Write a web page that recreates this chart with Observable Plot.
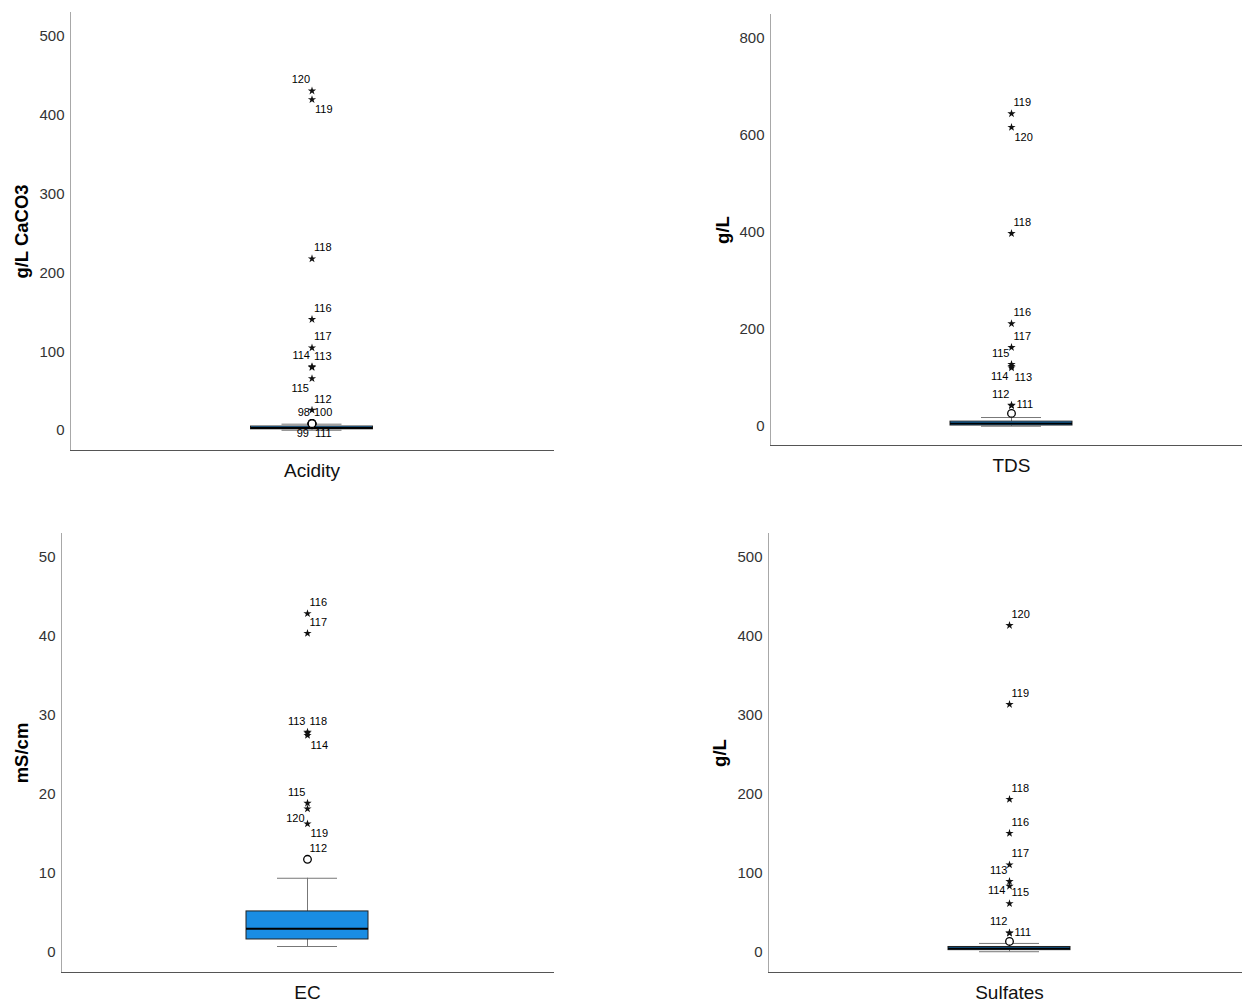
<!DOCTYPE html>
<html><head><meta charset="utf-8">
<script src="https://cdn.jsdelivr.net/npm/d3@7"></script>
<script src="https://cdn.jsdelivr.net/npm/@observablehq/plot@0.6"></script>
<style>
body{margin:0;background:#fff}
#wrap{position:relative;width:1242px;height:1002px;overflow:hidden;background:#fff}
#wrap > svg{position:absolute}
</style></head><body><div id="wrap"></div>
<script>
// ---------- DATA ----------
const variables = ["Acidity", "TDS", "EC", "Sulfates"];
const units = ["g/L CaCO3", "g/L", "mS/cm", "g/L"];
const yTicks = [
  [0, 100, 200, 300, 400, 500],
  [0, 200, 400, 600, 800],
  [0, 10, 20, 30, 40, 50],
  [0, 100, 200, 300, 400, 500]
];
const yDomains = [[-25.4, 530.5], [-39.2, 849.5], [-2.53, 53.04], [-25.3, 530.4]];
const boxQ1 = [1.5, 2, 1.65, 3];
const boxMedian = [3, 6, 3.0, 5];
const boxQ3 = [5, 10, 5.2, 7];
const whiskerLow = [0.3, 0.5, 0.76, 1];
const whiskerHigh = [8, 18.5, 9.4, 11.5];

// kind: "extreme" (star) or "outlier" (circle)
const acidityOutliers = [
  {id: "120", value: 431, kind: "extreme"},
  {id: "119", value: 420, kind: "extreme"},
  {id: "118", value: 218, kind: "extreme"},
  {id: "116", value: 141, kind: "extreme"},
  {id: "117", value: 105, kind: "extreme"},
  {id: "114", value: 81, kind: "extreme"},
  {id: "113", value: 80, kind: "extreme"},
  {id: "115", value: 66, kind: "extreme"},
  {id: "112", value: 26, kind: "extreme"},
  {id: "98", value: 9, kind: "outlier"},
  {id: "100", value: 9, kind: "outlier"},
  {id: "99", value: 8.6, kind: "outlier"},
  {id: "111", value: 8.6, kind: "outlier"}
];
const tdsOutliers = [
  {id: "119", value: 645, kind: "extreme"},
  {id: "120", value: 617, kind: "extreme"},
  {id: "118", value: 398, kind: "extreme"},
  {id: "116", value: 212, kind: "extreme"},
  {id: "117", value: 163, kind: "extreme"},
  {id: "115", value: 128, kind: "extreme"},
  {id: "114", value: 124, kind: "extreme"},
  {id: "113", value: 121, kind: "extreme"},
  {id: "112", value: 44, kind: "extreme"},
  {id: "111", value: 43, kind: "extreme"},
  {id: "", value: 27, kind: "outlier"}
];
const ecOutliers = [
  {id: "116", value: 42.9, kind: "extreme"},
  {id: "117", value: 40.4, kind: "extreme"},
  {id: "113", value: 27.9, kind: "extreme"},
  {id: "118", value: 27.8, kind: "extreme"},
  {id: "114", value: 27.5, kind: "extreme"},
  {id: "115", value: 18.9, kind: "extreme"},
  {id: "120", value: 18.2, kind: "extreme"},
  {id: "119", value: 16.3, kind: "extreme"},
  {id: "112", value: 11.8, kind: "outlier"}
];
const sulfatesOutliers = [
  {id: "120", value: 414, kind: "extreme"},
  {id: "119", value: 314, kind: "extreme"},
  {id: "118", value: 194, kind: "extreme"},
  {id: "116", value: 151, kind: "extreme"},
  {id: "117", value: 111, kind: "extreme"},
  {id: "113", value: 90, kind: "extreme"},
  {id: "114", value: 84, kind: "extreme"},
  {id: "115", value: 62, kind: "extreme"},
  {id: "112", value: 25, kind: "extreme"},
  {id: "111", value: 24.5, kind: "extreme"},
  {id: "", value: 14, kind: "outlier"}
];
const outliers = [acidityOutliers, tdsOutliers, ecOutliers, sulfatesOutliers];

// ---------- LAYOUT (label placement around each marker) ----------
const labelSides = [
  {"120": "nw", "119": "se", "118": "ne", "116": "ne", "117": "ne", "114": "nw", "113": "ne", "115": "sw", "112": "ne", "98": "nw", "100": "ne", "99": "sw", "111": "se"},
  {"119": "ne", "120": "se", "118": "ne", "116": "ne", "117": "ne", "115": "nw", "114": "sw", "113": "se", "112": "nw", "111": "e"},
  {"116": "ne", "117": "ne", "113": "nw", "118": "ne", "114": "se", "115": "nw", "120": "sw", "119": "se", "112": "ne"},
  {"120": "ne", "119": "ne", "118": "ne", "116": "ne", "117": "ne", "113": "nw", "114": "w", "115": "ne", "112": "nw", "111": "e"}
];
const sideStyle = {
  ne: {dx: 2, dy: -11, textAnchor: "start"},
  nw: {dx: -2, dy: -11, textAnchor: "end"},
  se: {dx: 3, dy: 10, textAnchor: "start"},
  sw: {dx: -3, dy: 10, textAnchor: "end"},
  e: {dx: 5, dy: -1, textAnchor: "start"},
  w: {dx: -4, dy: 4, textAnchor: "end"}
};
const panels = [
  {left: 0, top: 0, width: 621, height: 500, mL: 70, mR: 68, mT: 12, mB: 50, titleDx: -48},
  {left: 700, top: 0, width: 552, height: 500, mL: 70, mR: 0, mT: 14, mB: 55, titleDx: -47},
  {left: 0, top: 500, width: 621, height: 502, mL: 61, mR: 68, mT: 33, mB: 30, titleDx: -39},
  {left: 700, top: 500, width: 550, height: 502, mL: 68, mR: 0, mT: 33, mB: 30, titleDx: -48}
];
const boxWidth = 122, capWidth = 60;
const boxFill = "#1a8de3";

const wrap = document.getElementById("wrap");
variables.forEach((v, i) => {
  const p = panels[i];
  const plotW = p.width - p.mL - p.mR;
  const boxInset = (plotW - boxWidth) / 2;
  const capInset = (plotW - capWidth) / 2;
  const stat = [{variable: v, q1: boxQ1[i], median: boxMedian[i], q3: boxQ3[i], lo: whiskerLow[i], hi: whiskerHigh[i]}];
  const pts = outliers[i].map(d => ({...d, variable: v, side: labelSides[i][d.id]}));
  const labelMarks = Object.keys(sideStyle).map(s =>
    Plot.text(pts.filter(d => d.side === s && d.id), {
      x: "variable", y: "value", text: "id", fontSize: 11, fill: "#000", ...sideStyle[s]
    })
  );
  const chart = Plot.plot({
    width: p.width, height: p.height,
    marginLeft: p.mL, marginRight: p.mR, marginTop: p.mT, marginBottom: p.mB,
    style: {fontFamily: "'Liberation Sans', Arial, sans-serif", background: "transparent", overflow: "visible"},
    x: {type: "band", domain: [v], padding: 0},
    y: {domain: yDomains[i]},
    marks: [
      Plot.axisY({ticks: yTicks[i], tickSize: 0, tickPadding: 6, fontSize: 15, fill: "#333", label: null}),
      Plot.axisX({tickSize: 0, tickPadding: 13, fontSize: 19, fill: "#111", label: null}),
      Plot.frame({anchor: "left", stroke: "#a8a8a8"}),
      Plot.frame({anchor: "bottom", stroke: "#555"}),
      Plot.text([units[i]], {text: d => d, frameAnchor: "left", textAnchor: "middle", rotate: -90, dx: p.titleDx, fontSize: 18.5, fontWeight: "bold", fill: "#000"}),
      Plot.ruleX(stat, {x: "variable", y1: "q3", y2: "hi", stroke: "#777"}),
      Plot.ruleX(stat, {x: "variable", y1: "q1", y2: "lo", stroke: "#777"}),
      Plot.tickY(stat, {x: "variable", y: "hi", stroke: "#777", insetLeft: capInset, insetRight: capInset}),
      Plot.tickY(stat, {x: "variable", y: "lo", stroke: "#777", insetLeft: capInset, insetRight: capInset}),
      Plot.barY(stat, {x: "variable", y1: "q1", y2: "q3", fill: boxFill, stroke: "#222", strokeWidth: 1, insetLeft: boxInset, insetRight: boxInset}),
      Plot.tickY(stat, {x: "variable", y: "median", stroke: "#000", strokeWidth: 2, insetLeft: boxInset, insetRight: boxInset}),
      Plot.dot(pts.filter(d => d.kind === "outlier"), {x: "variable", y: "value", r: 3.8, stroke: "#000", strokeWidth: 1.3, fill: "#fff"}),
      Plot.dot(pts.filter(d => d.kind === "extreme"), {x: "variable", y: "value", symbol: "star", r: 2.6, fill: "#111", stroke: "none"}),
      ...labelMarks
    ]
  });
  chart.style.left = p.left + "px";
  chart.style.top = p.top + "px";
  wrap.appendChild(chart);
});
</script></body></html>
